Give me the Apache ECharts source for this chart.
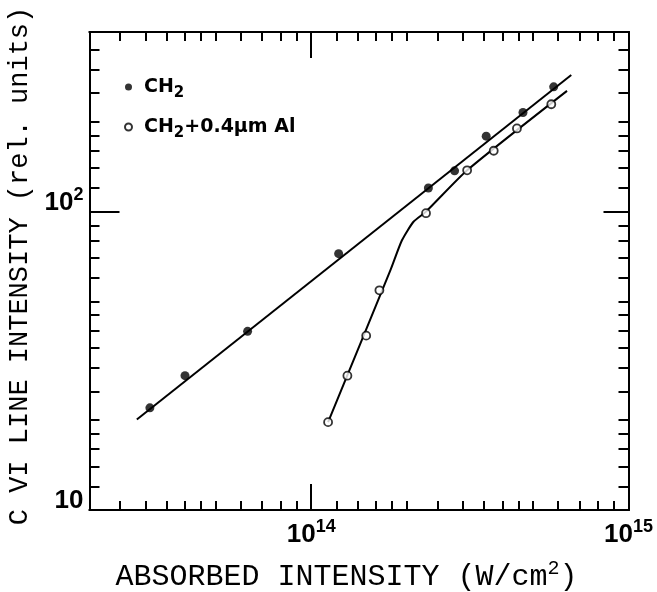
<!DOCTYPE html>
<html>
<head>
<meta charset="utf-8">
<script src="https://cdn.jsdelivr.net/npm/echarts@6/dist/echarts.min.js"></script>
<style>
html, body { margin: 0; padding: 0; background: #fff; }
#chart { width: 657px; height: 592px; }
</style>
</head>
<body>
<div id="chart"></div>
<script>
// CH2 target (filled dots)
var ch2X = [3.1e13, 4.0e13, 6.3e13, 1.22e14, 2.34e14, 2.83e14, 3.56e14, 4.65e14, 5.81e14];
var ch2Y = [22.0, 28.2, 39.7, 72.3, 120, 137, 179, 215, 262];
// CH2 + 0.4um Al (open circles)
var alX = [1.13e14, 1.30e14, 1.49e14, 1.64e14, 2.30e14, 3.10e14, 3.76e14, 4.45e14, 5.71e14];
var alY = [19.7, 28.2, 38.4, 54.5, 98.8, 137.6, 160, 190, 229];
// hand drawn curves through the points
var ch2FitX = [2.82e13, 6.6e14];
var ch2FitY = [20.1, 287];
var alFitX = [1.13e14, 1.778e14, 1.93e14, 2.1e14, 2.30e14, 3.10e14, 6.40e14];
var alFitY = [19.7, 63.8, 80, 92.5, 100, 137.6, 254];

// axis ranges and ticks (log paper)
var xMin = 2e13, xMax = 1e15;
var yMin = 10, yMax = 400;
var xMinorTicks = [2.5e13, 3e13, 3.5e13, 4e13, 4.5e13, 5e13, 6e13, 7e13, 8e13, 9e13,
    1.2e14, 1.4e14, 1.6e14, 1.8e14, 2e14, 2.5e14, 3e14, 3.5e14, 4e14, 4.5e14, 5e14, 6e14, 7e14, 8e14, 9e14];
var yMinorTicks = [12, 14, 16, 18, 20, 25, 30, 35, 40, 45, 50, 60, 70, 80, 90,
    120, 140, 160, 180, 200, 250, 300, 350];
var xMajorTicks = [1e14];
var yMajorTicks = [100];
var xLabels = [1e14, 9.999e14];   // 10^15 sits on the frame edge
var yLabels = [10.001, 100];

function zip(a, b) {
    return a.map(function (v, i) { return [v, b[i]]; });
}

var numRich = {
    b: { fontFamily: 'Liberation Sans', fontWeight: 'bold', fontSize: 26, lineHeight: 34, color: '#000' },
    sup: { fontFamily: 'Liberation Sans', fontWeight: 'bold', fontSize: 18, lineHeight: 18, color: '#000', padding: [0, 0, 15, 0] }
};
function powLabel(v) {
    var e = Math.round(Math.log(v) / Math.LN10);
    if (e === 1) return '{b|10}';
    return '{b|10}{sup|' + e + '}';
}

var frame = { show: true, lineStyle: { color: '#000', width: 2 } };

function xAxisCfg(pos, ticks, len, withLabels) {
    return {
        type: 'log', logBase: 10, min: xMin, max: xMax, position: pos,
        axisLine: frame,
        axisTick: { show: true, inside: true, length: len, customValues: ticks, lineStyle: { color: '#000', width: 2 } },
        axisLabel: withLabels ? { show: true, customValues: xLabels, formatter: powLabel, margin: 8, rich: numRich } : { show: false },
        splitLine: { show: false },
        minorTick: { show: false }
    };
}
function yAxisCfg(pos, ticks, len, withLabels) {
    return {
        type: 'log', logBase: 10, min: yMin, max: yMax, position: pos,
        axisLine: frame,
        axisTick: { show: true, inside: true, length: len, customValues: ticks, lineStyle: { color: '#000', width: 2 } },
        axisLabel: withLabels ? { show: true, customValues: yLabels, formatter: powLabel, margin: 6, padding: [0, 0, 18, 0], rich: numRich } : { show: false },
        splitLine: { show: false },
        minorTick: { show: false }
    };
}

var xBottom = xAxisCfg('bottom', xMinorTicks, 9, true);
xBottom.name = '{t|ABSORBED INTENSITY (W/cm}{sup|2}{t|)}';
xBottom.nameLocation = 'middle';
xBottom.nameGap = 50;
xBottom.nameTextStyle = {
    padding: [0, 25, 0, 0],
    rich: {
        t: { fontFamily: 'Liberation Mono', fontSize: 30, lineHeight: 34, color: '#000' },
        sup: { fontFamily: 'Liberation Mono', fontSize: 20, lineHeight: 20, color: '#000', padding: [0, 0, 16, 0] }
    }
};
var yLeft = yAxisCfg('left', yMinorTicks, 10, true);
yLeft.name = 'C VI LINE INTENSITY (rel. units)';
yLeft.nameLocation = 'middle';
yLeft.nameRotate = 90;
yLeft.nameGap = 54;
yLeft.nameTextStyle = { fontFamily: 'Liberation Mono', fontSize: 27, color: '#000', padding: [0, 0, 0, 10] };

var legRich = {
    g: { width: 7 },
    b: { fontFamily: 'DejaVu Sans', fontWeight: 'bold', fontSize: 19, lineHeight: 20, color: '#000' },
    s: { fontFamily: 'DejaVu Sans', fontWeight: 'bold', fontSize: 15, lineHeight: 15, color: '#000', padding: [13, 0, 0, 0] }
};

var chart = echarts.init(document.getElementById('chart'));
chart.setOption({
    backgroundColor: '#fff',
    animation: false,
    grid: { left: 89.5, right: 28.5, top: 32, bottom: 82, outerBoundsMode: 'none', containLabel: false },
    legend: {
        orient: 'vertical', left: 124, top: 73, padding: 0, itemGap: 12,
        itemWidth: 7, itemHeight: 7, icon: 'circle',
        data: ['CH2', 'CH2+0.4μm Al'],
        formatter: function (name) {
            return name === 'CH2' ? '{g| }{b|CH}{s|2}' : '{g| }{b|CH}{s|2}{b|+0.4μm Al}';
        },
        textStyle: { rich: legRich }
    },
    xAxis: [
        xBottom,
        xAxisCfg('top', xMinorTicks, 9, false),
        xAxisCfg('bottom', xMajorTicks, 26, false),
        xAxisCfg('top', xMajorTicks, 26, false)
    ],
    yAxis: [
        yLeft,
        yAxisCfg('right', yMinorTicks, 10, false),
        yAxisCfg('left', yMajorTicks, 30, false),
        yAxisCfg('right', yMajorTicks, 25, false)
    ],
    series: [
        {
            name: 'CH2 fit', type: 'line', data: zip(ch2FitX, ch2FitY),
            showSymbol: false, silent: true,
            lineStyle: { color: '#000', width: 2 }
        },
        {
            name: 'Al fit', type: 'line', data: zip(alFitX, alFitY),
            showSymbol: false, silent: true, smooth: 0.2,
            lineStyle: { color: '#000', width: 2 }
        },
        {
            name: 'CH2', type: 'scatter', data: zip(ch2X, ch2Y),
            symbol: 'circle', symbolSize: 9, z: 5,
            itemStyle: { color: '#000' }
        },
        {
            name: 'CH2+0.4μm Al', type: 'scatter', data: zip(alX, alY),
            symbol: 'circle', symbolSize: 8, z: 5,
            itemStyle: { color: '#fff', borderColor: '#000', borderWidth: 1.8 }
        }
    ]
});
</script>
</body>
</html>
